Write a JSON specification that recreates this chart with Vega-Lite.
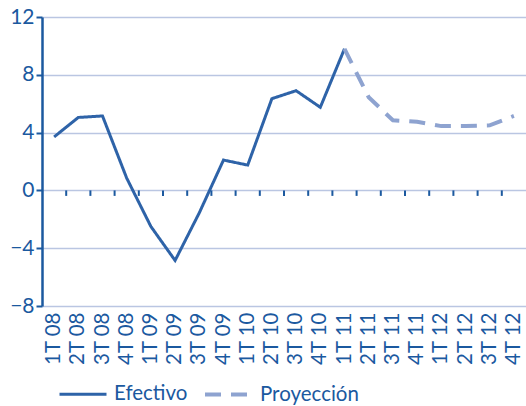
{
  "$schema": "https://vega.github.io/schema/vega-lite/v6.json",
  "width": 484,
  "height": 289,
  "autosize": "none",
  "padding": {"left": 42, "top": 17, "right": 0, "bottom": 100},
  "config": {
    "font": "Lato",
    "view": {"stroke": null},
    "axis": {"labelColor": "#1b599f", "titleColor": "#1b599f"}
  },
  "datasets": {
    "series": [
      {"q": "1T 08", "v": 3.7, "s": "Efectivo"},
      {"q": "2T 08", "v": 5.05, "s": "Efectivo"},
      {"q": "3T 08", "v": 5.15, "s": "Efectivo"},
      {"q": "4T 08", "v": 0.85, "s": "Efectivo"},
      {"q": "1T 09", "v": -2.5, "s": "Efectivo"},
      {"q": "2T 09", "v": -4.85, "s": "Efectivo"},
      {"q": "3T 09", "v": -1.55, "s": "Efectivo"},
      {"q": "4T 09", "v": 2.1, "s": "Efectivo"},
      {"q": "1T 10", "v": 1.75, "s": "Efectivo"},
      {"q": "2T 10", "v": 6.35, "s": "Efectivo"},
      {"q": "3T 10", "v": 6.9, "s": "Efectivo"},
      {"q": "4T 10", "v": 5.75, "s": "Efectivo"},
      {"q": "1T 11", "v": 9.8, "s": "Efectivo"},
      {"q": "1T 11", "v": 9.8, "s": "Proyección"},
      {"q": "2T 11", "v": 6.45, "s": "Proyección"},
      {"q": "3T 11", "v": 4.85, "s": "Proyección"},
      {"q": "4T 11", "v": 4.75, "s": "Proyección"},
      {"q": "1T 12", "v": 4.45, "s": "Proyección"},
      {"q": "2T 12", "v": 4.45, "s": "Proyección"},
      {"q": "3T 12", "v": 4.5, "s": "Proyección"},
      {"q": "4T 12", "v": 5.15, "s": "Proyección"}
    ],
    "bounds": [
      {"q": "2T 08"}, {"q": "3T 08"}, {"q": "4T 08"}, {"q": "1T 09"}, {"q": "2T 09"},
      {"q": "3T 09"}, {"q": "4T 09"}, {"q": "1T 10"}, {"q": "2T 10"}, {"q": "3T 10"},
      {"q": "4T 10"}, {"q": "1T 11"}, {"q": "2T 11"}, {"q": "3T 11"}, {"q": "4T 11"},
      {"q": "1T 12"}, {"q": "2T 12"}, {"q": "3T 12"}, {"q": "4T 12"}
    ]
  },
  "encoding": {
    "x": {
      "field": "q",
      "type": "ordinal",
      "scale": {
        "type": "band",
        "paddingInner": 0,
        "paddingOuter": 0,
        "domain": ["1T 08","2T 08","3T 08","4T 08","1T 09","2T 09","3T 09","4T 09","1T 10","2T 10","3T 10","4T 10","1T 11","2T 11","3T 11","4T 11","1T 12","2T 12","3T 12","4T 12"]
      },
      "axis": {
        "title": null,
        "domain": false,
        "ticks": false,
        "labelAngle": -90,
        "labelFontSize": 20.5,
        "labelPadding": 6
      }
    }
  },
  "layer": [
    {
      "data": {"name": "series"},
      "mark": {"type": "line", "strokeCap": "butt", "strokeJoin": "miter"},
      "encoding": {
        "y": {
          "field": "v",
          "type": "quantitative",
          "scale": {"domain": [-8, 12], "nice": false, "zero": false},
          "axis": {
            "title": null,
            "values": [-8, -4, 0, 4, 8, 12],
            "grid": true,
            "gridColor": "#bac6e2",
            "gridWidth": 1.5,
            "domainColor": "#1b599f",
            "domainWidth": 2.5,
            "tickColor": "#1b599f",
            "tickWidth": 2,
            "tickSize": 6,
            "labelFontSize": 21,
            "labelPadding": 2
          }
        },
        "color": {
          "field": "s",
          "type": "nominal",
          "scale": {"domain": ["Efectivo", "Proyección"], "range": ["#2e63a8", "#8ea3d0"]},
          "legend": {
            "title": null,
            "orient": "none",
            "legendX": 16,
            "legendY": 352,
            "direction": "horizontal",
            "symbolType": "stroke",
            "symbolSize": 2209,
            "symbolStrokeWidth": 3,
            "labelFontSize": 20.5,
            "labelColor": "#1b599f",
            "labelOffset": 6,
            "columnPadding": 9
          }
        },
        "strokeDash": {
          "field": "s",
          "type": "nominal",
          "scale": {"domain": ["Efectivo", "Proyección"], "range": [[1, 0], [16, 10]]}
        },
        "strokeWidth": {
          "field": "s",
          "type": "nominal",
          "scale": {"domain": ["Efectivo", "Proyección"], "range": [3, 4]},
          "legend": null
        }
      }
    },
    {
      "data": {"name": "bounds"},
      "mark": {"type": "rule", "color": "#1b599f", "strokeWidth": 2},
      "encoding": {
        "x": {"field": "q", "type": "ordinal", "bandPosition": 0},
        "y": {"datum": 0},
        "y2": {"datum": -0.38}
      }
    },
    {
      "data": {"values": [{}]},
      "mark": {"type": "rule", "color": "#1b599f", "strokeWidth": 3},
      "encoding": {"y": {"datum": 0}}
    }
  ]
}
